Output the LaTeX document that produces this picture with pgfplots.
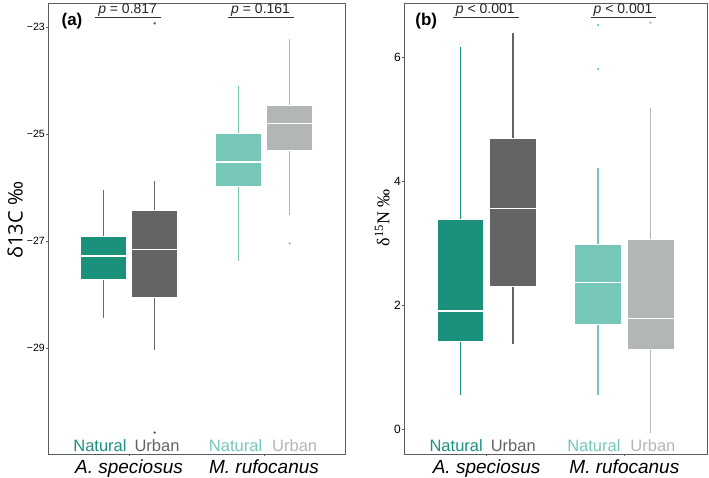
\documentclass[border=0pt]{standalone}
\usepackage{pgfplots}
\pgfplotsset{compat=1.18}
\usepgfplotslibrary{statistics}
\usepackage{fontspec}
\setmainfont{Liberation Sans}
\newfontfamily\seriffont{Liberation Serif}
\newfontfamily\opensans{Open Sans}
\definecolor{natA}{HTML}{1B917C}
\definecolor{urbA}{HTML}{636466}
\definecolor{natM}{HTML}{76C6B9}
\definecolor{urbM}{HTML}{B3B6B7}
\definecolor{frm}{HTML}{5C5C5C}
\pgfplotsset{
  bx/.style={
    boxplot/draw direction=y,
    boxplot/whisker extend=0,
    boxplot/box extend=0.34,
    mark=*, mark size=1pt, color=#1, line width=1.6pt,
    mark options={fill=#1, draw=#1, line width=0.4pt},
    boxplot/every box/.style={fill=#1, draw=white, line width=0.8pt},
    boxplot/every whisker/.style={draw=#1, line width=1.6pt},
    boxplot/every median/.style={draw=white, line width=1.5pt},
  },
  common/.style={
    scale only axis, height=451pt,
    xmin=0.4, xmax=2.6,
    xtick={1,2},
    xticklabels={\textit{A. speciosus}, \textit{M. rufocanus}},
    xticklabel style={font=\fontsize{19}{19}\selectfont, anchor=base, yshift=-18pt},
    tick align=outside, major tick length=2pt,
    xtick pos=bottom, ytick pos=left,
    axis line style={draw=frm, line width=0.8pt},
    tick style={draw=frm, line width=0.6pt},
    clip=false,
  },
}
\begin{document}
\begin{tikzpicture}
\path[use as bounding box] (0,0) rectangle (709pt,478pt);
% ---------- panel (a)
\begin{axis}[common, at={(48pt,24pt)}, anchor=south west, width=297pt,
  ymin=-30.98, ymax=-22.55,
  ytick={-29,-27,-25,-23},
  yticklabels={−29,−27,−25,−23},
  yticklabel style={font=\fontsize{10.5}{10.5}\selectfont, inner sep=1pt},
  ylabel={\opensans\fontsize{20}{20}\selectfont δ13C ‰},
  ylabel style={at={(axis description cs:-0.111,0.519)}, anchor=center},
]
\addplot[bx=natA, boxplot prepared={draw position=0.81,
  lower whisker=-28.43, lower quartile=-27.71, median=-27.28,
  upper quartile=-26.92, upper whisker=-26.05}] coordinates {};
\addplot[bx=urbA, boxplot prepared={draw position=1.19,
  lower whisker=-29.03, lower quartile=-28.06, median=-27.16,
  upper quartile=-26.43, upper whisker=-25.88}] coordinates {(0,-22.93) (0,-30.58)};
\addplot[bx=natM, boxplot prepared={draw position=1.81,
  lower whisker=-27.38, lower quartile=-25.98, median=-25.52,
  upper quartile=-24.98, upper whisker=-24.10}] coordinates {};
\addplot[bx=urbM, boxplot prepared={draw position=2.19,
  lower whisker=-26.52, lower quartile=-25.31, median=-24.80,
  upper quartile=-24.47, upper whisker=-23.22}] coordinates {(0,-27.04)};
\draw[black!80, line width=1.5pt] (axis cs:0.745,-22.82) -- (axis cs:1.235,-22.82);
\draw[black!80, line width=1.5pt] (axis cs:1.73,-22.82) -- (axis cs:2.22,-22.82);
\node[anchor=base, font=\fontsize{14}{14}\selectfont, text=black!85] at (axis cs:0.99,-22.74) {\textit{p} = 0.817};
\node[anchor=base, font=\fontsize{14}{14}\selectfont, text=black!85] at (axis cs:1.975,-22.74) {\textit{p} = 0.161};
\node[anchor=base, font=\fontsize{16.5}{16.5}\selectfont] at (axis cs:0.981,-30.94) {\textcolor{natA}{Natural}\hspace{8pt}\textcolor{urbA}{Urban}};
\node[anchor=base, font=\fontsize{16.5}{16.5}\selectfont] at (axis cs:1.993,-30.94) {\textcolor{natM}{Natural}\hspace{10pt}\textcolor{urbM}{Urban}};
\node[anchor=base west, font=\bfseries\fontsize{17}{17}\selectfont] at (rel axis cs:0.034,0.949) {(a)};
\end{axis}
% ---------- panel (b)
\begin{axis}[common, at={(404pt,24pt)}, anchor=south west, width=303pt,
  ymin=-0.398, ymax=6.876,
  ytick={0,2,4,6},
  yticklabel style={font=\fontsize{12}{12}\selectfont, inner sep=1pt},
  /pgf/number format/assume math mode=true,
  ylabel={\seriffont\fontsize{18}{18}\selectfont δ\textsuperscript{15}N ‰},
  ylabel style={at={(axis description cs:-0.072,0.524)}, anchor=center},
]
\addplot[bx=natA, boxplot prepared={draw position=0.81,
  lower whisker=0.56, lower quartile=1.42, median=1.91,
  upper quartile=3.38, upper whisker=6.17}] coordinates {};
\addplot[bx=urbA, boxplot prepared={draw position=1.19,
  lower whisker=1.37, lower quartile=2.30, median=3.56,
  upper quartile=4.70, upper whisker=6.39}] coordinates {};
\addplot[bx=natM, boxplot prepared={draw position=1.81,
  lower whisker=0.55, lower quartile=1.70, median=2.37,
  upper quartile=2.99, upper whisker=4.21}] coordinates {(0,6.52) (0,5.81)};
\addplot[bx=urbM, boxplot prepared={draw position=2.19,
  lower whisker=-0.06, lower quartile=1.29, median=1.79,
  upper quartile=3.07, upper whisker=5.18}] coordinates {(0,6.56)};
\draw[black!80, line width=1.5pt] (axis cs:0.755,6.64) -- (axis cs:1.233,6.64);
\draw[black!80, line width=1.5pt] (axis cs:1.755,6.64) -- (axis cs:2.233,6.64);
\node[anchor=base, font=\fontsize{14}{14}\selectfont, text=black!85] at (axis cs:0.99,6.71) {\textit{p} < 0.001};
\node[anchor=base, font=\fontsize{14}{14}\selectfont, text=black!85] at (axis cs:1.99,6.71) {\textit{p} < 0.001};
\node[anchor=base, font=\fontsize{16.5}{16.5}\selectfont] at (axis cs:0.971,-0.363) {\textcolor{natA}{Natural}\hspace{8pt}\textcolor{urbA}{Urban}};
\node[anchor=base, font=\fontsize{16.5}{16.5}\selectfont] at (axis cs:1.978,-0.363) {\textcolor{natM}{Natural}\hspace{10pt}\textcolor{urbM}{Urban}};
\node[anchor=base west, font=\bfseries\fontsize{17}{17}\selectfont] at (rel axis cs:0.026,0.949) {(b)};
\end{axis}
\end{tikzpicture}
\end{document}
